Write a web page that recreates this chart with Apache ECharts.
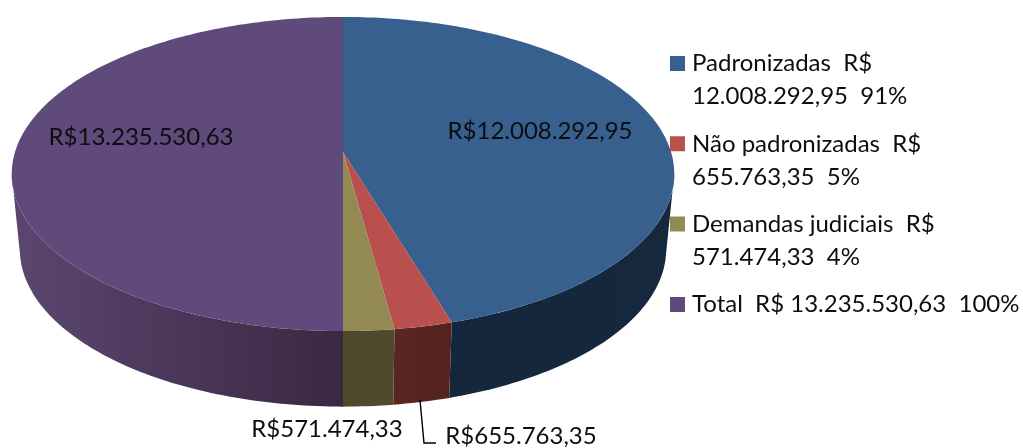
<!DOCTYPE html>
<html>
<head>
<meta charset="utf-8">
<script src="https://cdn.jsdelivr.net/npm/echarts@6/dist/echarts.min.js"></script>
<style>
	html,body{margin:0;padding:0;background:#fff;}
	#chart{width:1023px;height:448px;}
</style>
</head>
<body>
<div id="chart"></div>
<script>
// valores
var legendNames = [
	'Padronizadas  R$\n12.008.292,95  91%',
	'Não padronizadas  R$\n655.763,35  5%',
	'Demandas judiciais  R$\n571.474,33  4%',
	'Total  R$ 13.235.530,63  100%'
]
var sliceValues = [12008292.95, 655763.35, 571474.33, 13235530.63]
var sliceLabels = ['R$12.008.292,95', 'R$655.763,35', 'R$571.474,33', 'R$13.235.530,63']

var topColors = ['#37608f', '#b9504d', '#938953', '#604a7b']
var wallColors = [['#15273d', '#16283e'], ['#5a2522', '#552220'], ['#4f4a2c', '#4f4a2c'], ['#5c4670', '#3a2842']]
var labelPos = [[540, 131], [521, 436], [327, 429], [141, 137]]

var FONT = 'Lato'
var total = sliceValues.reduce(function (a, b) { return a + b }, 0)

// projecao em perspectiva do disco
var P = { cx: 343, d: 328, c: -0.14, a: 132.7, b: 152, d2: 320, a2: 122.7, b2: 227 }
function rim(deg, low) {
	var t = deg * Math.PI / 180
	var u = Math.sin(t), v = -Math.cos(t)
	var w = 1 + P.c * v
	return low
		? [P.cx + P.d2 * u / w, (P.a2 * v + P.b2) / w]
		: [P.cx + P.d * u / w, (P.a * v + P.b) / w]
}
function arc(from, to, low) {
	var pts = [], n = Math.max(2, Math.ceil(Math.abs(to - from)))
	for (var i = 0; i <= n; i++) pts.push(rim(from + (to - from) * i / n, low))
	return pts
}

var WALL_FROM = 98, WALL_TO = 262
var LOW_FROM = 102, LOW_TO = 258

// quadrado na altura da 1a linha do texto (caixa 17x66)
var LEGEND_ICON = 'path://M0 0H0.01V0.01H0Z M17 66H16.99V65.99H17Z M0 9H15V24H0Z'

function makeSeries(idx) {
	var start = 0
	for (var i = 0; i < idx; i++) start += sliceValues[i]
	var startDeg = start / total * 360
	return {
		type: 'custom',
		name: legendNames[idx],
		coordinateSystem: 'none',
		silent: true,
		itemStyle: { color: topColors[idx] },
		data: [[sliceValues[idx]]],
		renderItem: function (params, api) {
			var endDeg = startDeg + api.value(0) / total * 360
			var children = []
			var wa = Math.max(startDeg, WALL_FROM), wb = Math.min(endDeg, WALL_TO)
			if (wb > wa) {
				var upper = arc(wa, wb, false)
				var lower = arc(Math.min(endDeg, LOW_TO), Math.max(startDeg, LOW_FROM), true)
				children.push({
					type: 'polygon',
					shape: { points: upper.concat(lower) },
					style: {
						fill: {
							type: 'linear', global: true,
							x: Math.min(upper[0][0], upper[upper.length - 1][0]), y: 0,
							x2: Math.max(upper[0][0], upper[upper.length - 1][0]), y2: 0,
							colorStops: [{ offset: 0, color: wallColors[idx][0] }, { offset: 1, color: wallColors[idx][1] }]
						}
					}
				})
			}
			children.push({
				type: 'polygon',
				shape: { points: [[P.cx, P.b]].concat(arc(startDeg, endDeg, false)) },
				style: { fill: topColors[idx] }
			})
			if (idx === 1) {
				children.push({
					type: 'polyline',
					shape: { points: [[420, 400], [424, 443], [436, 443]] },
					style: { fill: null, stroke: '#000', lineWidth: 1.4 }
				})
			}
			children.push({
				type: 'text',
				z2: 10,
				style: {
					x: labelPos[idx][0], y: labelPos[idx][1],
					text: sliceLabels[idx],
					align: 'center', verticalAlign: 'middle',
					fill: '#0d0d0d', font: '24px ' + FONT
				}
			})
			return { type: 'group', children: children }
		}
	}
}

var chart = echarts.init(document.getElementById('chart'))
chart.setOption({
	animation: false,
	backgroundColor: '#fff',
	legend: {
		orient: 'vertical',
		left: 670,
		top: 47,
		padding: 0,
		icon: LEGEND_ICON,
		itemWidth: 17,
		itemHeight: 66,
		itemGap: 14.3,
		selectedMode: false,
		data: legendNames,
		formatter: function (name) {
			return name.indexOf('\n') < 0 ? name + '\n ' : name
		},
		textStyle: { fontFamily: FONT, fontSize: 24, color: '#0d0d0d', lineHeight: 33 }
	},
	series: [0, 1, 2, 3].map(makeSeries)
})
</script>
</body>
</html>
